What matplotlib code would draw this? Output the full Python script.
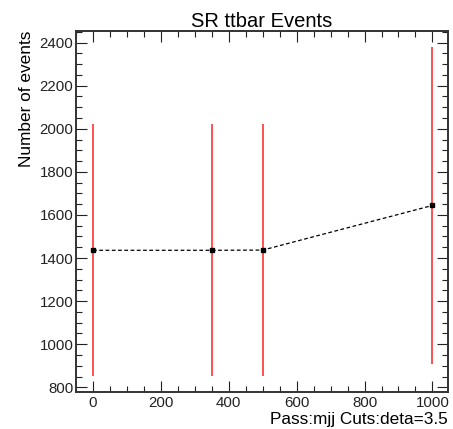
import matplotlib

matplotlib.use("Agg")
import matplotlib.pyplot as plt  # noqa: E402
from matplotlib.ticker import MultipleLocator  # noqa: E402

plt.rcParams["font.family"] = ["Liberation Sans", "DejaVu Sans"]

# mjj cut values and event yields
mjj_cut = [0, 350, 500, 1000]
n_events = [1436, 1436, 1437, 1644]
n_err = [584, 584, 584, 736]

fig = plt.figure(figsize=(4.53, 4.29), dpi=100)
ax = fig.add_axes([0.168, 0.086, 0.821, 0.842])

ax.errorbar(mjj_cut, n_events, yerr=n_err, fmt="none", ecolor="#ff3333",
            elinewidth=1.2, capsize=0, zorder=2)
ax.plot(mjj_cut, n_events, color="black", linestyle="--", linewidth=0.9,
        dashes=(3, 2), zorder=3)
ax.plot(mjj_cut, n_events, "s", color="black", markersize=3.5, zorder=4)

ax.set_xlim(-50, 1046)
ax.set_ylim(778, 2454)
ax.xaxis.set_major_locator(MultipleLocator(200))
ax.xaxis.set_minor_locator(MultipleLocator(50))
ax.yaxis.set_major_locator(MultipleLocator(200))
ax.yaxis.set_minor_locator(MultipleLocator(50))
ax.tick_params(which="both", direction="in", top=True, right=True,
               labelsize=10.8, colors="#222222", width=0.8, pad=3)
ax.tick_params(axis="y", pad=2)
ax.tick_params(which="major", length=8)
ax.tick_params(which="minor", length=4)
for sp in ax.spines.values():
    sp.set_linewidth(1.4)
    sp.set_color("#333333")

ax.set_title("SR ttbar Events", fontsize=14.5, pad=3)
ax.set_ylabel("Number of events", fontsize=12.4, loc="top", labelpad=4)
ax.set_xlabel("Pass:mjj Cuts:deta=3.5", fontsize=12.4, loc="right", labelpad=1)

fig.savefig("out.png", dpi=100)
